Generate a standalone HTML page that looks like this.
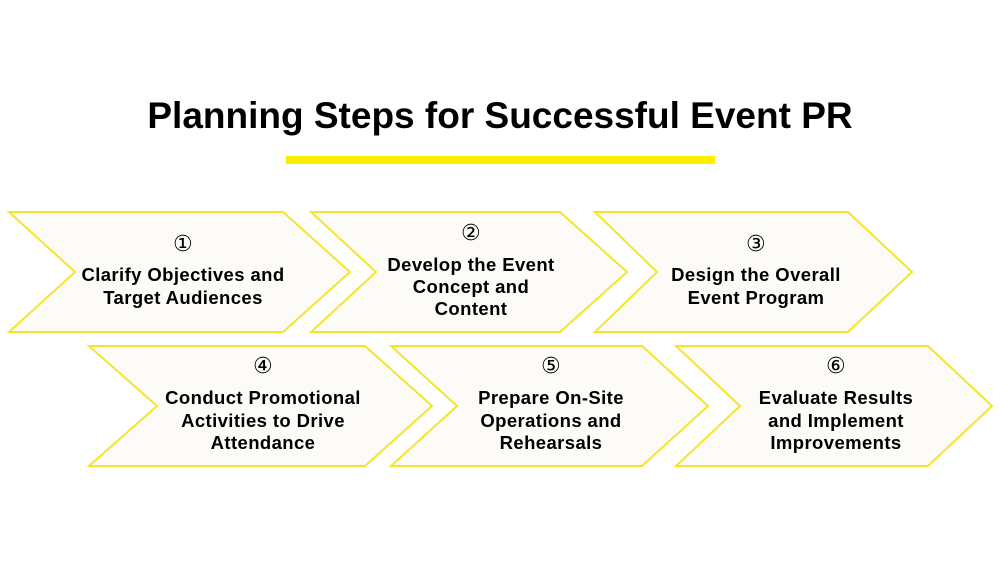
<!DOCTYPE html>
<html><head><meta charset="utf-8"><style>
html,body{margin:0;padding:0;background:#fff;}
svg{display:block;}
text{font-family:"Liberation Sans","DejaVu Sans",sans-serif;font-weight:bold;fill:#000;text-anchor:middle;}
.n{font-family:"DejaVu Sans",sans-serif;font-weight:normal;font-size:22px;}
</style></head><body>
<svg width="1000" height="563" viewBox="0 0 1000 563">
<text x="500" y="128" font-size="37">Planning Steps for Successful Event PR</text>
<rect x="286" y="156" width="429" height="8" fill="#fbf000"/>
<g fill="#fdfbf7" stroke="#f3e62a" stroke-width="2">
<polygon points="9,212 283,212 350,272 283,332 9,332 75,272"/>
<polygon points="311,212 560,212 627,272 560,332 311,332 376,272"/>
<polygon points="595,212 848,212 912,272 848,332 595,332 657,272"/>
<polygon points="89,346 365,346 432,406 365,466 89,466 157,406"/>
<polygon points="391,346 642,346 708,406 642,466 391,466 457,406"/>
<polygon points="676,346 928,346 992,406 928,466 676,466 740,406"/>
</g>
<g font-size="18.5" letter-spacing="0.4">
<text class="n" x="183" y="251">①</text>
<text x="183" y="281">Clarify Objectives and</text>
<text x="183" y="304">Target Audiences</text>
<text class="n" x="471" y="240">②</text>
<text x="471" y="271">Develop the Event</text>
<text x="471" y="293">Concept and</text>
<text x="471" y="315">Content</text>
<text class="n" x="756" y="251">③</text>
<text x="756" y="281">Design the Overall</text>
<text x="756" y="304">Event Program</text>
<text class="n" x="263" y="373">④</text>
<text x="263" y="404">Conduct Promotional</text>
<text x="263" y="427">Activities to Drive</text>
<text x="263" y="449">Attendance</text>
<text class="n" x="551" y="373">⑤</text>
<text x="551" y="404">Prepare On-Site</text>
<text x="551" y="427">Operations and</text>
<text x="551" y="449">Rehearsals</text>
<text class="n" x="836" y="373">⑥</text>
<text x="836" y="404">Evaluate Results</text>
<text x="836" y="427">and Implement</text>
<text x="836" y="449">Improvements</text>
</g>
</svg>
</body></html>
